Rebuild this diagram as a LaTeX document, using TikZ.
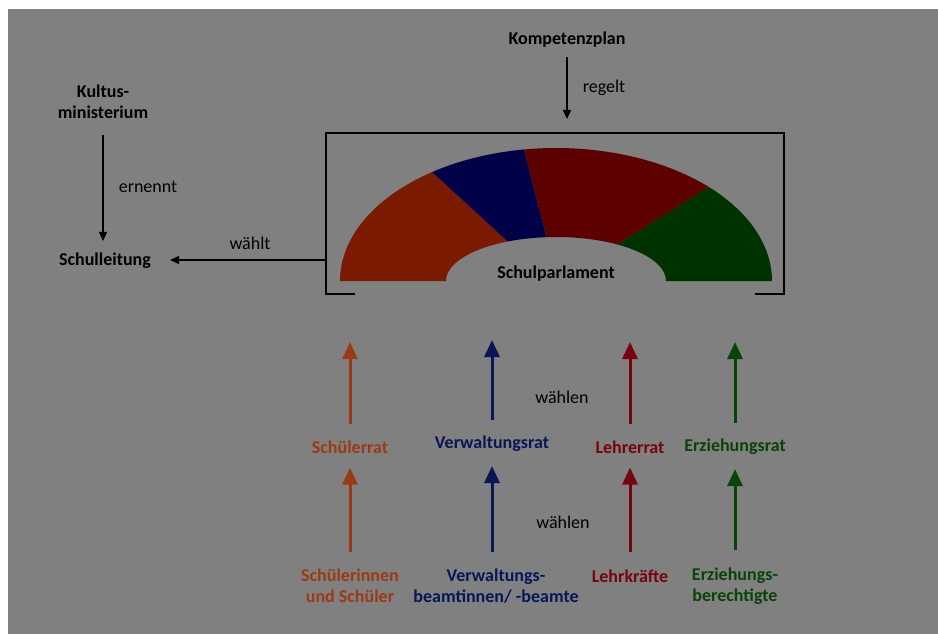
\documentclass[tikz,border=0pt]{standalone}
\usepackage{fontspec}
\setmainfont{Carlito}
\usetikzlibrary{arrows.meta}
\definecolor{BackClr}{RGB}{128,128,128}
\definecolor{OrangeFill}{RGB}{122,26,0}
\definecolor{BlueFill}{RGB}{0,0,72}
\definecolor{RedFill}{RGB}{92,0,0}
\definecolor{GreenFill}{RGB}{0,50,0}
\definecolor{OrangeClr}{RGB}{155,58,22}
\definecolor{BlueClr}{RGB}{8,22,88}
\definecolor{RedClr}{RGB}{118,4,14}
\definecolor{GreenClr}{RGB}{8,68,8}

\begin{document}
\begin{tikzpicture}[x=1pt,y=-1pt,
  lbl/.style={font=\fontsize{18pt}{21pt}\selectfont\bfseries,align=center,inner sep=2pt},
  txt/.style={font=\fontsize{18pt}{21pt}\selectfont,inner sep=2pt},
  thinarrow/.style={line width=1.3pt,-{Triangle[length=9pt,width=8pt]}},
  colarrow/.style={line width=3pt,draw=#1,-{Triangle[length=17pt,width=15pt]}}]
\useasboundingbox (0,0) rectangle (938,634);
\fill[BackClr] (8,9) rectangle (938,634);

% Schulparlament
\fill[OrangeFill] plot[domain=180:125,samples=40] ({556+216*cos(\x)},{281-133*sin(\x)})
  -- plot[domain=116:180,samples=30] ({556+110*cos(\x)},{281-44*sin(\x)}) -- cycle;
\fill[BlueFill] plot[domain=125:98.5,samples=30] ({556+216*cos(\x)},{281-133*sin(\x)})
  -- plot[domain=95:116,samples=20] ({556+110*cos(\x)},{281-44*sin(\x)}) -- cycle;
\fill[RedFill] plot[domain=98.5:45,samples=40] ({556+216*cos(\x)},{281-133*sin(\x)})
  -- plot[domain=56:95,samples=30] ({556+110*cos(\x)},{281-44*sin(\x)}) -- cycle;
\fill[GreenFill] plot[domain=45:0,samples=40] ({556+216*cos(\x)},{281-133*sin(\x)})
  -- plot[domain=0:56,samples=30] ({556+110*cos(\x)},{281-44*sin(\x)}) -- cycle;
\draw[line width=1.3pt] (355,294) -- (326,294) -- (326,133) -- (784,133) -- (784,294) -- (755,294);
\node[lbl] (parlament) at (556,274) {Schulparlament};

% oben
\node[lbl] (plan) at (567,40) {Kompetenzplan};
\coordinate (planEnd) at (567,119);
\draw[thinarrow,shorten <=7pt] (plan) -- (planEnd);
\node[txt] (regelt) at (604,88) {regelt};

\node[lbl] (kultus) at (103,102) {Kultus-\\ministerium};
\node[lbl] (leitung) at (105,261) {Schulleitung};
\draw[thinarrow,shorten <=14pt,shorten >=10pt] (kultus.south) -- (kultus.south |- leitung.north);
\node[txt] (ernennt) at (148,187) {ernennt};

\coordinate (boxW) at (326,260);
\draw[thinarrow,shorten >=17pt] (boxW) -- (leitung.east |- boxW);
\node[txt] (waehlt) at (250,243) {wählt};

% Raete
\node[lbl,text=OrangeClr] (srat) at (350,447) {Schülerrat};
\node[lbl,text=BlueClr] (vrat) at (492,444) {Verwaltungsrat};
\node[lbl,text=RedClr] (lrat) at (630,447) {Lehrerrat};
\node[lbl,text=GreenClr] (erat) at (735,447) {Erziehungsrat};

\coordinate (sTop) at (350,342);
\coordinate (vTop) at (492,340);
\coordinate (lTop) at (630,342);
\coordinate (eTop) at (735,342);
\draw[colarrow=OrangeClr,shorten <=14pt] (srat) -- (sTop);
\draw[colarrow=BlueClr,shorten <=14pt] (vrat) -- (vTop);
\draw[colarrow=RedClr,shorten <=14pt] (lrat) -- (lTop);
\draw[colarrow=GreenClr,shorten <=14pt] (erat) -- (eTop);
\node[txt] (waehlenA) at (562,397) {wählen};

% Waehler
\node[lbl,text=OrangeClr] (schueler) at (350,586) {Schülerinnen\\und Schüler};
\node[lbl,text=BlueClr] (verwaltung) at (496,586) {Verwaltungs-\\beamtinnen/ -beamte};
\node[lbl,text=RedClr] (lehrer) at (630,576) {Lehrkräfte};
\node[lbl,text=GreenClr] (erzieher) at (735,586) {Erziehungs-\\berechtigte};

\draw[colarrow=OrangeClr,shorten <=15pt,shorten >=12pt] (schueler) -- (srat);
\draw[colarrow=BlueClr,shorten <=15pt,shorten >=12pt] (verwaltung.north -| vrat) -- (vrat);
\draw[colarrow=RedClr,shorten <=15pt,shorten >=12pt] (lehrer) -- (lrat);
\draw[colarrow=GreenClr,shorten <=15pt,shorten >=12pt] (erzieher) -- (erat);
\node[txt] (waehlenB) at (563,522) {wählen};
\end{tikzpicture}
\end{document}
